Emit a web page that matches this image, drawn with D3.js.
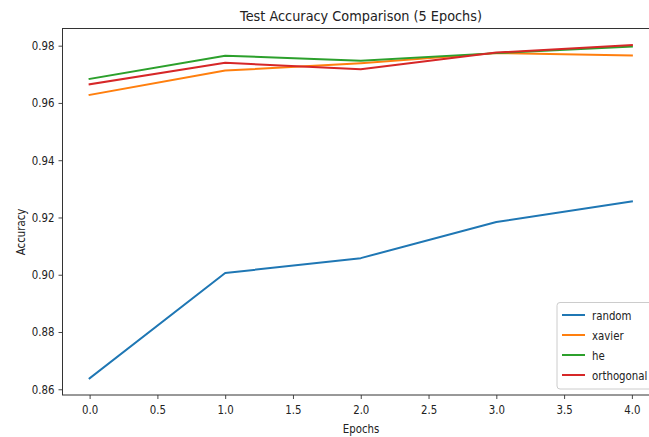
<!DOCTYPE html>
<html><head><meta charset="utf-8">
<script src="https://cdn.jsdelivr.net/npm/d3@7"></script>
<style>body{margin:0;background:#fff}svg{display:block}text{font-family:"DejaVu Sans",sans-serif;fill:#222}</style>
</head><body><svg id="c" width="649" height="437"></svg>
<script>
const epochs = [0, 1, 2, 3, 4];
const seriesNames = ["random", "xavier", "he", "orthogonal"];
const randomAcc = [0.8638, 0.9006, 0.9058, 0.9184, 0.9256];
const xavierAcc = [0.9628, 0.9713, 0.9739, 0.9774, 0.9766];
const heAcc = [0.9684, 0.9765, 0.9747, 0.9774, 0.9797];
const orthogonalAcc = [0.9665, 0.9740, 0.9718, 0.9776, 0.9802];
const colors = ["#1f77b4", "#ff7f0e", "#2ca02c", "#d62728"];
const xTicks = [0, 0.5, 1, 1.5, 2, 2.5, 3, 3.5, 4];
const yTicks = [0.86, 0.88, 0.90, 0.92, 0.94, 0.96, 0.98];
const titleText = "Test Accuracy Comparison (5 Epochs)";

const seriesValues = [randomAcc, xavierAcc, heAcc, orthogonalAcc];
const SX = 0.85, FS = 12;
const svg = d3.select("#c");
const L = 62.5, R = 659, T = 28.5, B = 395;
const x = d3.scaleLinear().domain([-0.2, 4.2]).range([L, R]);
const y = d3.scaleLinear().domain([0.8580, 0.9860]).range([B, T]);

svg.append("defs").append("clipPath").attr("id","pc").append("rect")
  .attr("x", L).attr("y", T).attr("width", R-L).attr("height", B-T);

// lines
const line = d3.line().x((d,i)=>x(epochs[i])).y(d=>y(d));
const lg = svg.append("g").attr("clip-path","url(#pc)");
seriesValues.forEach((vals,i)=>{
  lg.append("path").attr("d", line(vals)).attr("fill","none")
    .attr("stroke", colors[i]).attr("stroke-width", 2).attr("stroke-linejoin","round").attr("stroke-linecap","square");
});

// axes
const xa = svg.append("g").attr("transform",`translate(0,${B})`)
  .call(d3.axisBottom(x).tickValues(xTicks).tickFormat(d3.format(".1f")).tickSizeOuter(0).tickSize(4));
const ya = svg.append("g").attr("transform",`translate(${L},0)`)
  .call(d3.axisLeft(y).tickValues(yTicks).tickFormat(d3.format(".2f")).tickSizeOuter(0).tickSize(4));
[xa, ya].forEach(a=>{
  a.select(".domain").remove();
  a.selectAll("line").attr("stroke","#333").attr("stroke-width",0.9);
  a.selectAll("text").attr("font-size", FS).attr("fill","#222").style("font-family","DejaVu Sans");
});
xa.selectAll("text").attr("y", 10).attr("transform", `scale(${SX},1)`);
ya.selectAll("text").attr("x", -8/SX).attr("transform", `scale(${SX},1)`);

// spines
svg.append("rect").attr("x", L).attr("y", T).attr("width", R-L).attr("height", B-T)
  .attr("fill","none").attr("stroke","#333").attr("stroke-width",1);

// title and labels
svg.append("text").attr("x", 361).attr("y", 21).attr("text-anchor","middle")
  .attr("font-size", 14).attr("textLength", 242).attr("lengthAdjust","spacingAndGlyphs").text(titleText);
svg.append("g").attr("transform","translate(361,432.5)").append("text")
  .attr("text-anchor","middle").attr("font-size", FS).attr("transform",`scale(${SX},1)`).text("Epochs");
svg.append("g").attr("transform","translate(25,232) rotate(-90)").append("text")
  .attr("text-anchor","middle").attr("font-size", FS).attr("transform",`scale(${SX},1)`).text("Accuracy");

// legend
const leg = svg.append("g");
leg.append("rect").attr("x", 557).attr("y", 302.5).attr("width", 120).attr("height", 86.5)
  .attr("rx", 3).attr("fill","#fff").attr("fill-opacity",0.85).attr("stroke","#ccc").attr("stroke-width",1);
seriesNames.forEach((n,i)=>{
  const yy = 315 + i*20;
  leg.append("line").attr("x1", 562).attr("x2", 585).attr("y1", yy).attr("y2", yy)
    .attr("stroke", colors[i]).attr("stroke-width", 2);
  leg.append("g").attr("transform",`translate(592,${yy+4.5})`).append("text")
    .attr("font-size", FS).attr("transform",`scale(${SX},1)`).text(n);
});
</script></body></html>
